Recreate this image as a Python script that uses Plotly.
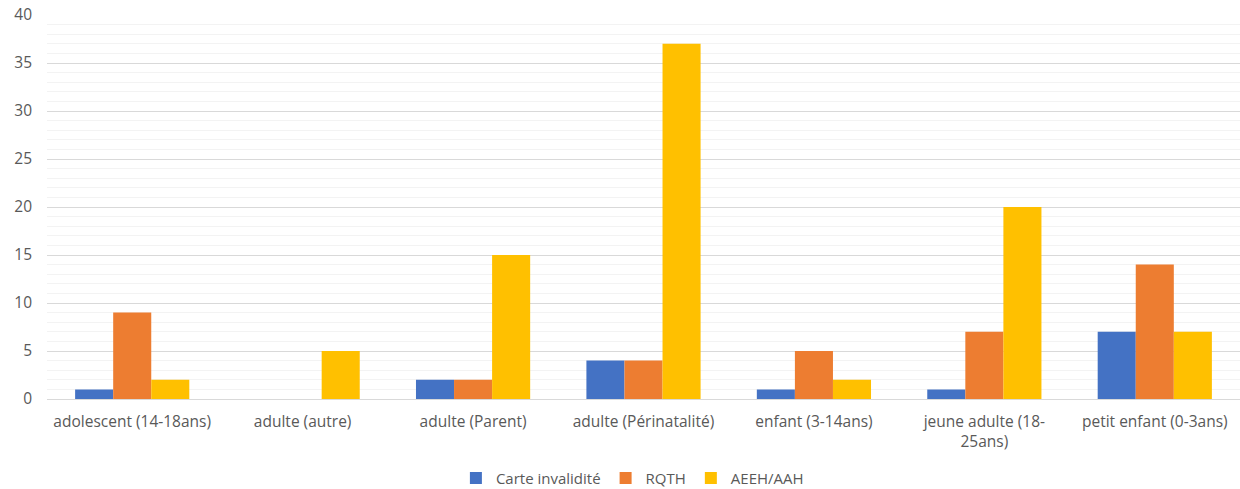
import plotly.graph_objects as go

categories = ["adolescent (14-18ans)", "adulte (autre)", "adulte (Parent)", "adulte (Périnatalité)",
              "enfant (3-14ans)", "jeune adulte (18-<br>25ans)", "petit enfant (0-3ans)"]
carte = [1, 0, 2, 4, 1, 1, 7]
rqth = [9, 0, 2, 4, 5, 7, 14]
aeeh = [2, 5, 15, 37, 2, 20, 7]
y_ticks = [0, 5, 10, 15, 20, 25, 30, 35, 40]

fig = go.Figure()
fig.add_bar(name="Carte invalidité", x=categories, y=carte, marker_color="#4472C4")
fig.add_bar(name="RQTH", x=categories, y=rqth, marker_color="#ED7D31")
fig.add_bar(name="AEEH/AAH", x=categories, y=aeeh, marker_color="#FFC000")
fig.update_traces(marker_line_width=0)

fig.update_layout(
    width=1240, height=489,
    margin=dict(l=47, r=0, t=15, b=90),
    barmode="group", bargap=0.33, bargroupgap=0,
    plot_bgcolor="white", paper_bgcolor="white",
    font=dict(family="Open Sans", size=15, color="#595959"),
    legend=dict(orientation="h", x=0.51, xanchor="center", xref="container",
                y=0.022, yanchor="middle", yref="container",
                font=dict(size=15, color="#595959"), itemwidth=30, tracegroupgap=0),
    xaxis=dict(showline=True, linecolor="#d9d9d9", ticks="", tickfont=dict(size=15.5),
               automargin=False, ticklabelstandoff=8),
    yaxis=dict(range=[0, 40], tickvals=y_ticks, showgrid=True, gridcolor="#d9d9d9",
               zeroline=False, ticks="", tickfont=dict(size=15.5), automargin=False,
               ticklabelstandoff=14,
               minor=dict(dtick=1, showgrid=True, gridcolor="#f3f3f3")),
)
fig.write_html("out.html", config={"displayModeBar": False},
               post_script="document.body.style.margin='0';document.body.style.overflow='hidden';")
